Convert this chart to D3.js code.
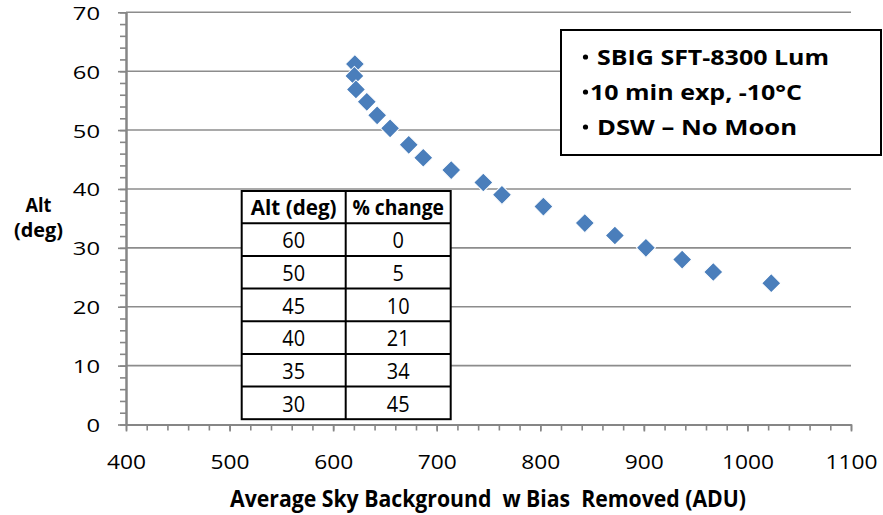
<!DOCTYPE html>
<html>
<head>
<meta charset="utf-8">
<script src="https://cdn.jsdelivr.net/npm/d3@7"></script>
<style>
  html, body { margin: 0; padding: 0; background: #fff; }
  svg { display: block; }
  text { font-family: "Open Sans", Lato, sans-serif; fill: #000; }
</style>
</head>
<body>
<svg id="chart" width="883" height="515"></svg>
<script>
// Sky background level versus target altitude
const skyBackgroundADU = [621, 620.5, 622, 632.5, 642.5, 655, 673, 687, 714, 745, 763, 803, 843, 872, 902, 937, 967, 1023];
const altitudeDeg      = [61.2, 59.2, 56.9, 54.8, 52.5, 50.3, 47.5, 45.3, 43.2, 41.1, 39.0, 37.0, 34.2, 32.1, 30.0, 28.0, 25.9, 24.0];

// Summary table: brightening relative to 60 deg
const tableHeaders   = ["Alt (deg)", "% change"];
const tableAltitudes = [60, 50, 45, 40, 35, 30];
const tablePctChange = [0, 5, 10, 21, 34, 45];

// Notes box
const noteLines = ["SBIG SFT-8300 Lum", "10 min exp, -10\u00b0C", "DSW \u2013 No Moon"];

// Axis ticks
const xTicks = [400, 500, 600, 700, 800, 900, 1000, 1100];
const yTicks = [0, 10, 20, 30, 40, 50, 60, 70];
const xTitle = "Average Sky Background\u00a0 w Bias\u00a0 Removed (ADU)";
const yTitle = ["Alt", "(deg)"];

const svg = d3.select("#chart");
const axisColor = "#868686";
const gridColor = "#8c8c8c";
const pointColor = "#4a7ebb";
const fontStack = "'Open Sans', Lato, sans-serif";

const x = d3.scaleLinear().domain([400, 1100]).range([126, 851]);
const y = d3.scaleLinear().domain([0, 70]).range([424.5, 12.3]);

// Horizontal gridlines
svg.append("g").selectAll("line")
  .data(yTicks.filter(v => v > 0))
  .join("line")
  .attr("x1", x(400)).attr("x2", x(1100))
  .attr("y1", d => y(d)).attr("y2", d => y(d))
  .attr("stroke", gridColor).attr("stroke-width", 1.6);

// Minor ticks
const yMinor = svg.append("g").attr("transform", `translate(${x(400)},0)`)
  .call(d3.axisLeft(y).tickValues(d3.range(0, 71, 2)).tickSize(6).tickSizeOuter(0).tickFormat(""));
const xMinor = svg.append("g").attr("transform", `translate(0,${y(0)})`)
  .call(d3.axisBottom(x).tickValues(d3.range(400, 1101, 20)).tickSize(6).tickSizeOuter(0).tickFormat(""));

// Major ticks and labels
const yAxis = svg.append("g").attr("transform", `translate(${x(400)},0)`)
  .call(d3.axisLeft(y).tickValues(yTicks).tickSize(8).tickSizeOuter(0).tickPadding(18).tickFormat(d3.format("d")));
const xAxis = svg.append("g").attr("transform", `translate(0,${y(0)})`)
  .call(d3.axisBottom(x).tickValues(xTicks).tickSize(7).tickSizeOuter(0).tickPadding(24).tickFormat(d3.format("d")));

[yMinor, xMinor, yAxis, xAxis].forEach(g => {
  g.selectAll("path.domain").attr("stroke", axisColor).attr("stroke-width", 2);
  g.selectAll(".tick line").attr("stroke", axisColor).attr("stroke-width", 1.6);
});

yAxis.selectAll(".tick text")
  .attr("font-family", fontStack)
  .attr("font-size", 19)
  .attr("dy", null).attr("y", 7)
  .attr("textLength", d => String(d).length * 13.6)
  .attr("lengthAdjust", "spacingAndGlyphs")
  .attr("fill", "#000");

xAxis.selectAll(".tick text")
  .attr("font-family", fontStack)
  .attr("font-size", 20)
  .attr("dy", null).attr("y", 44)
  .attr("textLength", d => String(d).length * 13)
  .attr("lengthAdjust", "spacingAndGlyphs")
  .attr("fill", "#000");

// Axis titles
svg.append("text")
  .attr("x", 230).attr("y", 507)
  .attr("font-size", 23.5).attr("font-weight", "bold")
  .attr("textLength", 516).attr("lengthAdjust", "spacingAndGlyphs")
  .text(xTitle);

const yTitleBaselines = [212.3, 236.7];
const yTitleWidths = [26, 49];
svg.append("g").selectAll("text")
  .data(yTitle)
  .join("text")
  .attr("x", (d, i) => 38.5 - yTitleWidths[i] / 2)
  .attr("y", (d, i) => yTitleBaselines[i])
  .attr("font-size", 18.8).attr("font-weight", "bold")
  .attr("textLength", (d, i) => yTitleWidths[i]).attr("lengthAdjust", "spacingAndGlyphs")
  .text(d => d);

// Summary table
const table = { left: 241.7, top: 191, headerH: 32.3, rowH: 32.65, colW: [104, 105] };
const tableG = svg.append("g");
const tableRight = table.left + table.colW[0] + table.colW[1];
const tableBottom = table.top + table.headerH + table.rowH * tableAltitudes.length;
tableG.append("rect")
  .attr("x", table.left).attr("y", table.top)
  .attr("width", tableRight - table.left).attr("height", tableBottom - table.top)
  .attr("fill", "#fff").attr("stroke", "#000").attr("stroke-width", 2);
tableG.append("line")
  .attr("x1", table.left + table.colW[0]).attr("x2", table.left + table.colW[0])
  .attr("y1", table.top).attr("y2", tableBottom)
  .attr("stroke", "#000").attr("stroke-width", 2);
tableG.selectAll("line.row")
  .data(tableAltitudes)
  .join("line").attr("class", "row")
  .attr("x1", table.left).attr("x2", tableRight)
  .attr("y1", (d, i) => table.top + table.headerH + i * table.rowH)
  .attr("y2", (d, i) => table.top + table.headerH + i * table.rowH)
  .attr("stroke", "#000").attr("stroke-width", 2);

const colCenters = [table.left + table.colW[0] / 2, table.left + table.colW[0] + table.colW[1] / 2];
const headerWidths = [85.7, 91.6];
tableG.selectAll("text.head")
  .data(tableHeaders)
  .join("text").attr("class", "head")
  .attr("x", (d, i) => colCenters[i] - headerWidths[i] / 2)
  .attr("y", table.top + table.headerH - 8.3)
  .attr("font-size", 20.5).attr("font-weight", "bold")
  .attr("textLength", (d, i) => headerWidths[i]).attr("lengthAdjust", "spacingAndGlyphs")
  .text(d => d);

const rows = tableAltitudes.map((a, i) => [a, tablePctChange[i]]);
rows.forEach((row, r) => {
  row.forEach((v, c) => {
    tableG.append("text")
      .attr("x", colCenters[c])
      .attr("y", table.top + table.headerH + (r + 1) * table.rowH - 7.7)
      .attr("text-anchor", "middle")
      .attr("font-size", 21)
      .attr("textLength", String(v).length * 11.4)
      .attr("lengthAdjust", "spacingAndGlyphs")
      .text(v);
  });
});

// Notes box
const noteG = svg.append("g");
noteG.append("rect")
  .attr("x", 561).attr("y", 30).attr("width", 320).attr("height", 125)
  .attr("fill", "#fff").attr("stroke", "#000").attr("stroke-width", 2);
const noteBaselines = [65, 100, 135];
const noteStarts = [597, 590, 597];
const noteEnds = [829, 802, 797];
noteG.selectAll("circle")
  .data(noteLines)
  .join("circle")
  .attr("cx", 585.5)
  .attr("cy", (d, i) => noteBaselines[i] - 8)
  .attr("r", 2.6)
  .attr("fill", "#000");
noteG.selectAll("text")
  .data(noteLines)
  .join("text")
  .attr("x", (d, i) => noteStarts[i])
  .attr("y", (d, i) => noteBaselines[i])
  .attr("font-size", 22).attr("font-weight", "bold")
  .attr("textLength", (d, i) => noteEnds[i] - noteStarts[i]).attr("lengthAdjust", "spacingAndGlyphs")
  .text(d => d);

// Data points as diamonds
const diamond = d3.symbol().type(d3.symbolSquare).size(182);
svg.append("g").selectAll("path")
  .data(skyBackgroundADU.map((v, i) => ({ adu: v, alt: altitudeDeg[i] })))
  .join("path")
  .attr("d", diamond)
  .attr("transform", d => `translate(${x(d.adu)},${y(d.alt)}) rotate(45)`)
  .attr("fill", pointColor)
  .attr("stroke", "#fff").attr("stroke-width", 1);
</script>
</body>
</html>
